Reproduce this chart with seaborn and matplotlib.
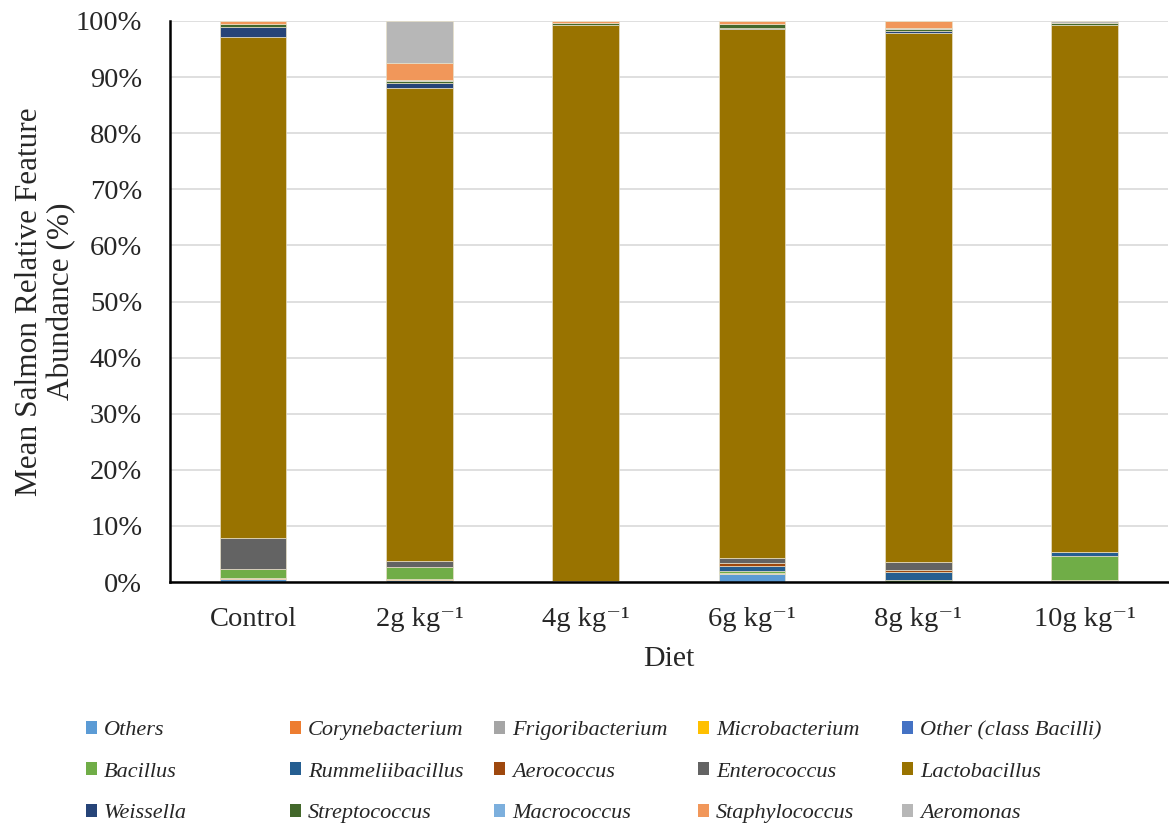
import numpy as np
import pandas as pd
import matplotlib
matplotlib.use("Agg")
import matplotlib.pyplot as plt
import matplotlib.ticker as mticker
from matplotlib.patches import Patch
import seaborn as sns

# Diet groups (x axis)
diets = ["Control", "2g kg\u207b\u00b9", "4g kg\u207b\u00b9", "6g kg\u207b\u00b9",
         "8g kg\u207b\u00b9", "10g kg\u207b\u00b9"]

# Genera, stacked bottom to top
genera = ["Others", "Corynebacterium", "Frigoribacterium", "Microbacterium",
          "Other (class Bacilli)", "Bacillus", "Rummeliibacillus", "Aerococcus",
          "Enterococcus", "Lactobacillus", "Weissella", "Streptococcus",
          "Macrococcus", "Staphylococcus", "Aeromonas"]

colors = ["#5B9BD5", "#ED7D31", "#A5A5A5", "#FFC000", "#4472C4",
          "#70AD47", "#255E91", "#9E480E", "#636363", "#997300",
          "#264478", "#43682B", "#7CAFDD", "#F1975A", "#B7B7B7"]

# Mean relative abundance (%) per genus, one value per diet
others          = [0.5, 0.3, 0.0, 1.4, 0.0, 0.0]
corynebacterium = [0.2, 0.2, 0.0, 0.1, 0.0, 0.0]
frigoribacterium = [0.0, 0.0, 0.0, 0.1, 0.0, 0.4]
microbacterium  = [0.0, 0.0, 0.0, 0.0, 0.0, 0.0]
other_bacilli   = [0.0, 0.0, 0.0, 0.0, 0.0, 0.0]
bacillus        = [1.7, 2.2, 0.0, 0.3, 0.4, 4.2]
rummeliibacillus = [0.0, 0.0, 0.0, 1.0, 1.3, 0.7]
aerococcus      = [0.0, 0.0, 0.0, 0.5, 0.5, 0.0]
enterococcus    = [5.5, 1.0, 0.2, 0.8, 1.3, 0.0]
lactobacillus   = [89.3, 84.3, 99.0, 94.3, 94.4, 93.9]
weissella       = [1.8, 0.95, 0.0, 0.3, 0.3, 0.0]
streptococcus   = [0.4, 0.4, 0.5, 0.7, 0.4, 0.5]
macrococcus     = [0.0, 0.2, 0.0, 0.0, 0.2, 0.0]
staphylococcus  = [0.6, 3.0, 0.3, 0.5, 1.2, 0.0]
aeromonas       = [0.0, 7.45, 0.0, 0.0, 0.0, 0.3]

series = [others, corynebacterium, frigoribacterium, microbacterium, other_bacilli,
          bacillus, rummeliibacillus, aerococcus, enterococcus, lactobacillus,
          weissella, streptococcus, macrococcus, staphylococcus, aeromonas]

serif = ["Liberation Serif", "DejaVu Serif"]
sns.set_theme(style="white")
plt.rcParams["font.family"] = serif

W, H = 1169, 823
fig = plt.figure(figsize=(W / 100, H / 100), dpi=100)
ax = fig.add_axes([0.1454, 0.2928, 0.8536, 0.6817])

bottom = np.zeros(len(diets))
for name, vals, col in zip(genera, series, colors):
    vals = np.asarray(vals, dtype=float) / 100.0
    df = pd.DataFrame({"diet": diets, "value": vals})
    sns.barplot(data=df, x="diet", y="value", order=diets, color=col,
                width=0.4, bottom=bottom, ax=ax, errorbar=None,
                edgecolor="#E8E0C8", linewidth=0.5, saturation=1)
    bottom = bottom + vals

ax.set_xlim(-0.5, 5.5)
ax.set_ylim(0, 1.0)
ax.yaxis.set_major_locator(mticker.MultipleLocator(0.1))
ax.yaxis.set_major_formatter(mticker.PercentFormatter(1.0, decimals=0))
ax.grid(axis="y", color="#D9D9D9", linewidth=1.2)
ax.set_axisbelow(True)

for s in ["top", "right"]:
    ax.spines[s].set_visible(False)
for s in ["left", "bottom"]:
    ax.spines[s].set_color("black")
    ax.spines[s].set_linewidth(1.8)

ax.tick_params(axis="x", length=0, labelsize=20.5, pad=18)
ax.tick_params(axis="y", length=0, labelsize=20.5, pad=20)
ax.set_xlabel("Diet", fontsize=21.5, labelpad=10)
ax.set_ylabel("Mean Salmon Relative Feature\nAbundance (%)", fontsize=22.5,
              labelpad=0, linespacing=1.1)

# Legend: five evenly spaced columns of three entries, filled row by row
ncol, nrow = 5, 3
col_left_px = [86, 290, 494, 698, 902]
for c in range(ncol):
    idx = [r * ncol + c for r in range(nrow)]
    handles = [Patch(facecolor=colors[i], edgecolor="none") for i in idx]
    labels = [genera[i] for i in idx]
    fig.legend(handles, labels, loc="center left",
               bbox_to_anchor=(col_left_px[c] / W, 1 - 772 / H),
               frameon=False, borderpad=0, borderaxespad=0,
               prop={"family": serif, "style": "italic", "size": 16},
               handlelength=0.5, handleheight=0.5, handletextpad=0.3,
               labelspacing=1.0)

fig.savefig("out.png", dpi=100)
